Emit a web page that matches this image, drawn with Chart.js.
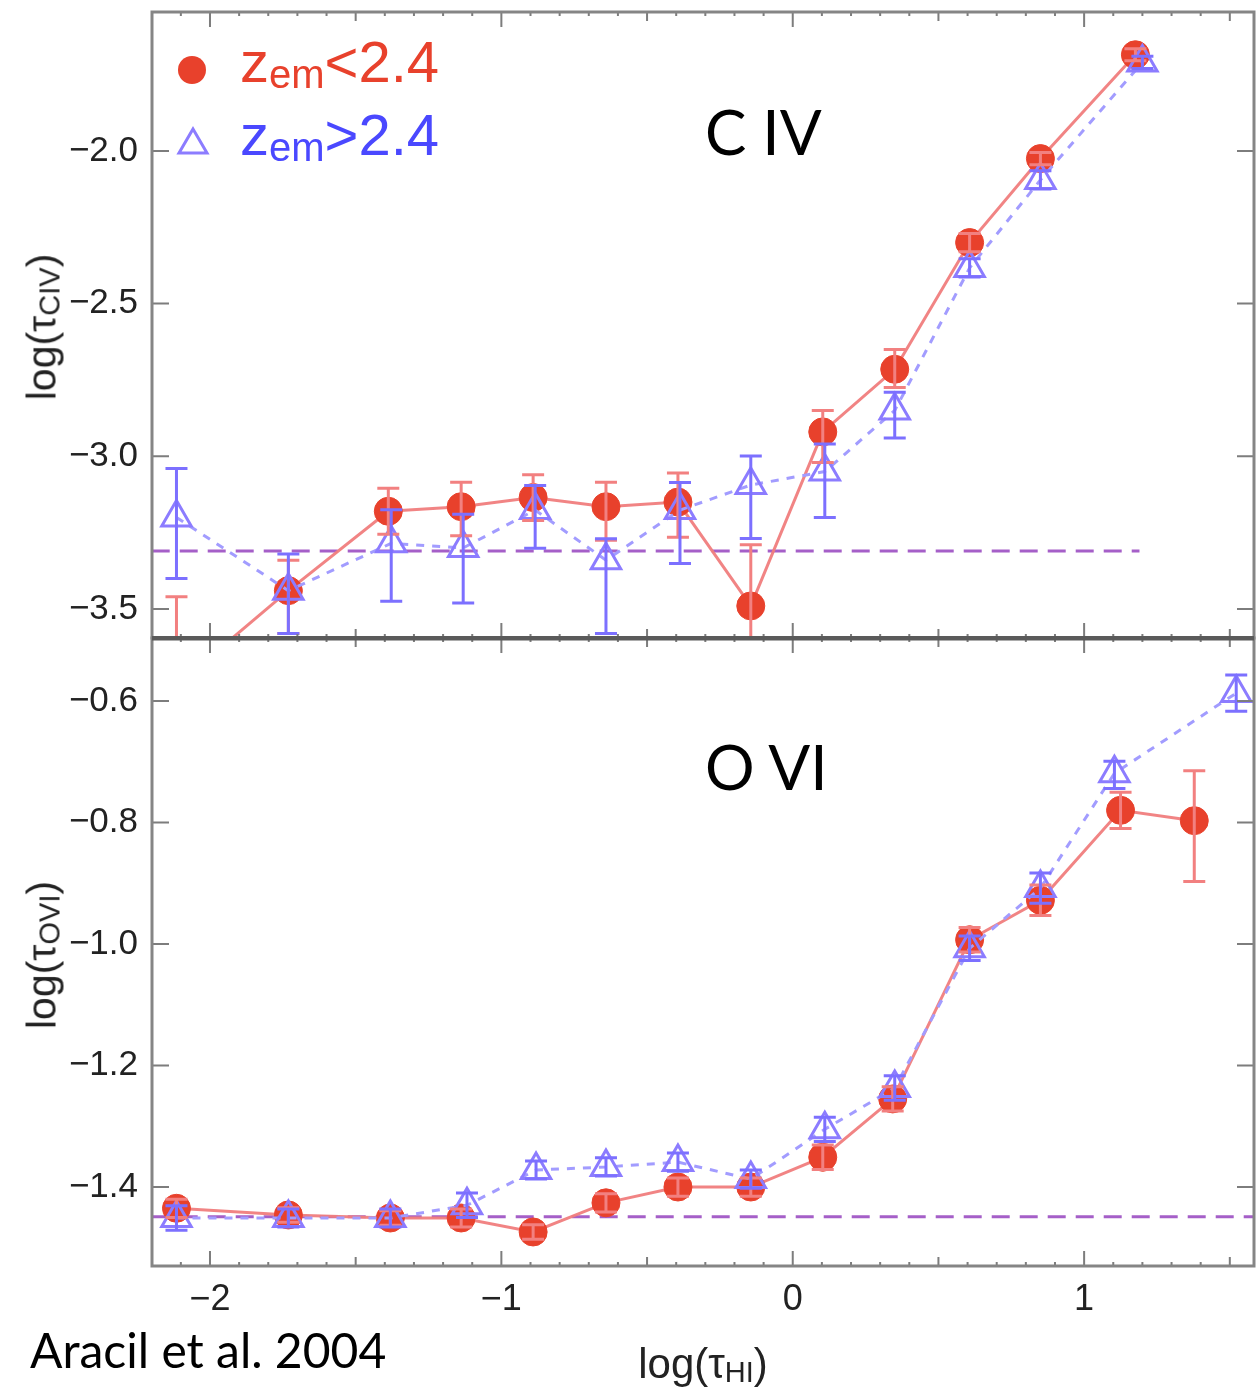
<!DOCTYPE html>
<html>
<head>
<meta charset="utf-8">
<title>log tau CIV / OVI vs log tau HI</title>
<script src="https://cdn.jsdelivr.net/npm/chart.js@4.4.1/dist/chart.umd.min.js"></script>
<style>
  html, body { margin: 0; padding: 0; background: #fff; }
  #wrap { position: relative; width: 1257px; height: 1393px; overflow: hidden; }
  canvas { position: absolute; left: 0; }
  #civ { top: 0; }
  #ovi { top: 636px; }
  .lbl { position: absolute; white-space: nowrap; line-height: 1; }
  .ion { font-family: Lato, "Open Sans", sans-serif; font-size: 62px; color: #000; }
  .cite { font-family: Lato, "Open Sans", sans-serif; font-size: 48px; color: #000; }
  .axt { font-family: "Liberation Sans", Arial, sans-serif; font-size: 41px; color: #222; }
  .axt .s { font-size: 29px; position: relative; top: 4px; }
  .big { font-size: 42px; }
  .big .s { font-size: 29px; }
  .rot { transform: translate(-50%, -50%) rotate(-90deg); }
  .leg { font-family: "Liberation Sans", Arial, sans-serif; font-size: 58px; }
  .leg .s { font-size: 40px; position: relative; top: 6px; }
</style>
</head>
<body>
<div id="wrap">
  <canvas id="civ" width="1257" height="640"></canvas>
  <canvas id="ovi" width="1257" height="757"></canvas>

  <!-- legend -->
  <svg class="lbl" style="left:176px;top:54px" width="32" height="32"><circle cx="16" cy="16" r="14" fill="#e8412c"/></svg>
  <svg class="lbl" style="left:176px;top:126px" width="34" height="32"><polygon points="17,3 31,27 3,27" fill="none" stroke="#8c7cff" stroke-width="3"/></svg>
  <div class="lbl leg" style="left:240px;top:33px;color:#e8412c">z<span class="s">em</span>&lt;2.4</div>
  <div class="lbl leg" style="left:240px;top:106px;color:#4a48ff">z<span class="s">em</span>&gt;2.4</div>

  <div class="lbl ion" style="left:705px;top:100px">C IV</div>
  <div class="lbl ion" style="left:705px;top:735px">O VI</div>

  <div class="lbl axt rot" style="left:42px;top:327px">log(τ<span class="s">CIV</span>)</div>
  <div class="lbl axt rot" style="left:42px;top:955px">log(τ<span class="s">OVI</span>)</div>
  <div class="lbl axt big" style="left:703px;top:1343px;transform:translateX(-50%)">log(τ<span class="s">HI</span>)</div>

  <div class="lbl cite" style="left:30px;top:1326px">Aracil et al. 2004</div>
</div>

<script>
// x = log(tau_HI) bin centres, y = median log optical depth, errUp/errDown = bar lengths
// z_em < 2.4 sample
const civLowX = [-2.115, -1.731, -1.388, -1.138, -0.891, -0.641, -0.394, -0.144, 0.103, 0.350, 0.607, 0.850, 1.176];
const civLowY = [-3.75, -3.44, -3.18, -3.165, -3.135, -3.165, -3.15, -3.49, -2.92, -2.715, -2.30, -2.025, -1.685];
const civLowUp = [0.29, 0.10, 0.075, 0.08, 0.075, 0.08, 0.095, 0.20, 0.07, 0.065, 0.03, 0.02, 0.02];
const civLowDown = [0.29, 0.14, 0.075, 0.095, 0.075, 0.11, 0.115, 0.20, 0.10, 0.06, 0.03, 0.02, 0.02];

// z_em > 2.4 sample
const civHighX = [-2.115, -1.731, -1.378, -1.131, -0.884, -0.641, -0.387, -0.144, 0.110, 0.350, 0.607, 0.850, 1.200];
const civHighY = [-3.20, -3.44, -3.285, -3.30, -3.176, -3.34, -3.176, -3.094, -3.05, -2.85, -2.383, -2.095, -1.71];
const civHighUp = [0.16, 0.12, 0.11, 0.11, 0.08, 0.07, 0.09, 0.095, 0.09, 0.06, 0.03, 0.03, 0.02];
const civHighDown = [0.20, 0.14, 0.19, 0.18, 0.125, 0.24, 0.175, 0.175, 0.15, 0.09, 0.03, 0.03, 0.02];

const oviLowX = [-2.115, -1.731, -1.381, -1.138, -0.891, -0.641, -0.394, -0.144, 0.103, 0.343, 0.607, 0.850, 1.125, 1.378];
const oviLowY = [-1.435, -1.446, -1.451, -1.451, -1.474, -1.426, -1.40, -1.40, -1.351, -1.255, -0.993, -0.928, -0.78, -0.797];
const oviLowUp = [0.015, 0.012, 0.012, 0.015, 0.012, 0.015, 0.015, 0.015, 0.02, 0.02, 0.02, 0.025, 0.03, 0.082];
const oviLowDown = [0.015, 0.012, 0.012, 0.015, 0.012, 0.015, 0.015, 0.015, 0.02, 0.02, 0.02, 0.025, 0.03, 0.10];

const oviHighX = [-2.115, -1.731, -1.381, -1.118, -0.881, -0.641, -0.394, -0.144, 0.110, 0.350, 0.607, 0.850, 1.104, 1.522];
const oviHighY = [-1.451, -1.451, -1.451, -1.43, -1.372, -1.367, -1.359, -1.387, -1.305, -1.237, -1.007, -0.908, -0.719, -0.587];
const oviHighUp = [0.02, 0.015, 0.015, 0.02, 0.015, 0.015, 0.015, 0.015, 0.02, 0.02, 0.02, 0.025, 0.02, 0.03];
const oviHighDown = [0.02, 0.015, 0.015, 0.02, 0.015, 0.015, 0.015, 0.015, 0.02, 0.02, 0.02, 0.025, 0.025, 0.03];

// noise level (dashed horizontal)
const civNoiseX = [-2.2, 1.19];
const civNoise = -3.31;
const oviNoiseX = [-2.2, 1.59];
const oviNoise = -1.449;

const xTicks = [-2, -1, 0, 1];
const civTicks = [-3.5, -3.0, -2.5, -2.0];
const oviTicks = [-1.4, -1.2, -1.0, -0.8, -0.6];

const RED = '#e8412c';
const RED_LINE = 'rgba(240,125,125,0.95)';
const RED_ERR = '#f28080';
const BLUE = '#8c7cff';
const BLUE_LINE = '#a29cff';
const BLUE_ERR = '#7c70ff';
const NOISE = '#a55fc8';

Chart.defaults.font.family = '"Liberation Sans", Arial, sans-serif';
Chart.defaults.color = '#222';

const pts = (xs, ys) => xs.map((x, i) => ({ x: x, y: ys[i] }));
const minus = (v, d) => (v < 0 ? '\u2212' : '') + Math.abs(v).toFixed(d);

// vertical error bars with caps, clipped to the plot box
const errorBars = {
    id: 'errorBars',
    afterDatasetsDraw(chart) {
        const { ctx, chartArea: a, scales: { y } } = chart;
        ctx.save();
        ctx.beginPath();
        ctx.rect(a.left, a.top, a.right - a.left, a.bottom - a.top);
        ctx.clip();
        chart.data.datasets.forEach((ds, i) => {
            if (!ds.errUp) return;
            const meta = chart.getDatasetMeta(i);
            ctx.strokeStyle = ds.errColor;
            ctx.lineWidth = 3;
            meta.data.forEach((pt, j) => {
                const v = ds.data[j].y;
                const top = y.getPixelForValue(v + ds.errUp[j]);
                const bot = y.getPixelForValue(v - ds.errDown[j]);
                ctx.beginPath();
                ctx.moveTo(pt.x, top); ctx.lineTo(pt.x, bot);
                ctx.moveTo(pt.x - 11, top); ctx.lineTo(pt.x + 11, top);
                ctx.moveTo(pt.x - 11, bot); ctx.lineTo(pt.x + 11, bot);
                ctx.stroke();
            });
        });
        ctx.restore();
    }
};

// box frame plus inward tick marks on all four sides
const frameTicks = {
    id: 'frameTicks',
    afterDraw(chart, args, opts) {
        const { ctx, chartArea: a, scales: { x, y } } = chart;
        ctx.save();
        ctx.strokeStyle = '#7d7d7d';
        ctx.lineWidth = 2;
        ctx.beginPath();
        for (let i = Math.ceil(x.min * 10); i <= Math.floor(x.max * 10); i++) {
            const px = x.getPixelForValue(i / 10);
            const len = i % 10 === 0 ? 15 : (i % 5 === 0 ? 9 : 4);
            ctx.moveTo(px, a.top); ctx.lineTo(px, a.top + len);
            ctx.moveTo(px, a.bottom); ctx.lineTo(px, a.bottom - len);
        }
        y.ticks.forEach(t => {
            const py = y.getPixelForValue(t.value);
            ctx.moveTo(a.left, py); ctx.lineTo(a.left + 17, py);
            ctx.moveTo(a.right, py); ctx.lineTo(a.right - 17, py);
        });
        ctx.stroke();

        ctx.lineWidth = 3;
        ctx.strokeStyle = '#858585';
        ctx.strokeRect(a.left, a.top, a.right - a.left, a.bottom - a.top);
        if (opts.heavyTop) {
            ctx.lineWidth = 5;
            ctx.strokeStyle = '#5a5a5a';
            ctx.beginPath();
            ctx.moveTo(a.left, a.top); ctx.lineTo(a.right, a.top);
            ctx.stroke();
        }
        ctx.restore();
    }
};

function panel(canvasId, o) {
    return new Chart(document.getElementById(canvasId), {
        type: 'line',
        data: {
            datasets: [
                {
                    data: pts(o.noiseX, o.noiseX.map(() => o.noise)),
                    borderColor: NOISE, borderWidth: 3, borderDash: [18, 10],
                    pointRadius: 0, order: 2
                },
                {
                    data: pts(o.lowX, o.lowY),
                    errUp: o.lowUp, errDown: o.lowDown, errColor: RED_ERR,
                    borderColor: RED_LINE, borderWidth: 3,
                    pointStyle: 'circle', pointRadius: 14,
                    pointBackgroundColor: RED, pointBorderColor: RED, pointBorderWidth: 1,
                    order: 1
                },
                {
                    data: pts(o.highX, o.highY),
                    errUp: o.highUp, errDown: o.highDown, errColor: BLUE_ERR,
                    borderColor: BLUE_LINE, borderWidth: 3, borderDash: [8, 8],
                    pointStyle: 'triangle', pointRadius: 17,
                    pointBackgroundColor: 'rgba(255,255,255,0)', pointBorderColor: BLUE, pointBorderWidth: 3,
                    order: 0
                }
            ]
        },
        options: {
            responsive: false,
            animation: false,
            devicePixelRatio: 1,
            layout: { padding: o.padding, autoPadding: false },
            plugins: {
                legend: { display: false },
                tooltip: { enabled: false },
                frameTicks: { heavyTop: o.heavyTop }
            },
            scales: {
                x: {
                    type: 'linear', min: -2.199, max: 1.583,
                    display: o.showX,
                    grid: { display: false, drawTicks: false },
                    border: { display: false },
                    afterBuildTicks: s => { s.ticks = xTicks.map(v => ({ value: v })); },
                    afterFit: s => {
                        s.height = o.showX ? 127 : 0;
                        s.paddingLeft = 0; s.paddingRight = 0;
                        s.paddingTop = 0; s.paddingBottom = 0;
                    },
                    ticks: {
                        padding: 12, font: { size: 36 }, color: '#222',
                        maxRotation: 0, autoSkip: false,
                        callback: v => minus(v, 0)
                    }
                },
                y: {
                    type: 'linear', min: o.yMin, max: o.yMax,
                    grid: { display: false, drawTicks: false },
                    border: { display: false },
                    afterBuildTicks: s => { s.ticks = o.yTicks.map(v => ({ value: v })); },
                    afterFit: s => {
                        s.width = 152;
                        s.paddingTop = 0; s.paddingBottom = 0;
                        s.paddingLeft = 0; s.paddingRight = 0;
                    },
                    ticks: {
                        padding: 14, font: { size: 35 }, color: '#222',
                        callback: v => minus(v, 1)
                    }
                }
            }
        },
        plugins: [errorBars, frameTicks]
    });
}

panel('civ', {
    lowX: civLowX, lowY: civLowY, lowUp: civLowUp, lowDown: civLowDown,
    highX: civHighX, highY: civHighY, highUp: civHighUp, highDown: civHighDown,
    noiseX: civNoiseX, noise: civNoise,
    yMin: -3.595, yMax: -1.545, yTicks: civTicks,
    showX: false, heavyTop: false,
    padding: { top: 12, bottom: 2, left: 0, right: 3 }
});

panel('ovi', {
    lowX: oviLowX, lowY: oviLowY, lowUp: oviLowUp, lowDown: oviLowDown,
    highX: oviHighX, highY: oviHighY, highUp: oviHighUp, highDown: oviHighDown,
    noiseX: oviNoiseX, noise: oviNoise,
    yMin: -1.530, yMax: -0.4963, yTicks: oviTicks,
    showX: true, heavyTop: true,
    padding: { top: 2, bottom: 0, left: 0, right: 3 }
});
</script>
</body>
</html>
